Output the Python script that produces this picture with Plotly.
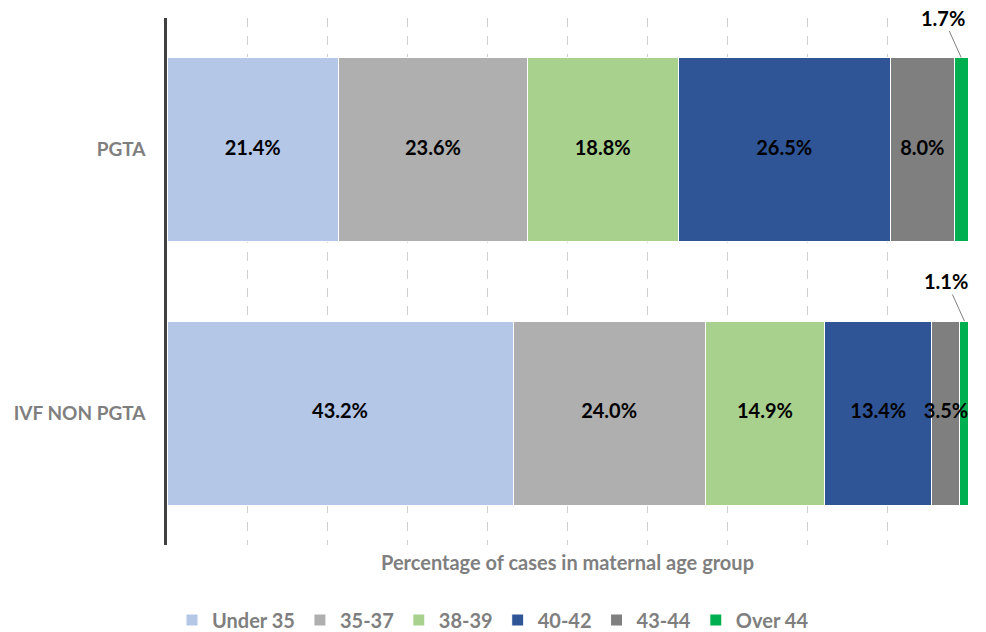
import plotly.graph_objects as go

categories = ["PGTA", "IVF NON PGTA"]
age_groups = ["Under 35", "35-37", "38-39", "40-42", "43-44", "Over 44"]
pgta = [21.4, 23.6, 18.8, 26.5, 8.0, 1.7]
ivf = [43.2, 24.0, 14.9, 13.4, 3.5, 1.1]
colors = ["#B4C7E7", "#AFAFAF", "#A9D18E", "#2F5597", "#7F7F7F", "#00B050"]

FONT = "Lato"
series = {"PGTA": pgta, "IVF NON PGTA": ivf}

fig = go.Figure()
for i, g in enumerate(age_groups):
    vals = [pgta[i], ivf[i]]
    fig.add_trace(go.Bar(
        y=categories, x=vals, name=f"<b>{g}</b>", orientation="h",
        marker=dict(color=colors[i], line=dict(color="white", width=1)),
        width=0.7, hoverinfo="x+name",
    ))

# in-bar labels (drawn on top of all bars)
lx, ly, lt = [], [], []
for cat, vals in series.items():
    cum = 0
    for v in vals[:5]:
        lx.append(cum + v / 2)
        ly.append(cat)
        lt.append(f"<b>{v:.1f}%</b>")
        cum += v
fig.add_trace(go.Scatter(
    x=lx, y=ly, text=lt, mode="text", showlegend=False, hoverinfo="skip",
    textfont=dict(family=FONT, size=20, color="black"), cliponaxis=False,
))

# leader-line labels for the small last segment
for cat, vals in series.items():
    mid = sum(vals[:5]) + vals[5] / 2
    idx = 1 if cat == "PGTA" else 0
    fig.add_annotation(
        x=mid, y=idx + 0.35, xref="x", yref="y",
        text=f"<b>{vals[5]:.1f}%</b>", showarrow=True, arrowhead=0,
        arrowwidth=1, arrowcolor="#7f7f7f", ax=-18, ay=-40,
        font=dict(family=FONT, size=20, color="black"),
    )

fig.update_layout(
    width=986, height=632,
    margin=dict(l=167, r=18, t=18, b=87),
    barmode="stack",
    plot_bgcolor="white", paper_bgcolor="white",
    font=dict(family=FONT),
    legend=dict(orientation="h", x=0.5, xanchor="center", xref="container",
                y=(632 - 620) / 632, yanchor="middle", yref="container",
                font=dict(family=FONT, size=20, color="#7f7f7f"),
                traceorder="normal", itemwidth=30),
    xaxis=dict(range=[0, 100], dtick=10, showgrid=True, gridcolor="#CFCFCF",
               griddash="dash", gridwidth=1.2, showticklabels=False, zeroline=False,
               automargin=False,
               title=dict(text="<b>Percentage of cases in maternal age group</b>",
                          font=dict(family=FONT, size=20, color="#7f7f7f"), standoff=10)),
    yaxis=dict(categoryorder="array", categoryarray=["IVF NON PGTA", "PGTA"],
               range=[-0.5, 1.5],
               showline=True, linecolor="#404040", linewidth=2.5, automargin=False,
               tickfont=dict(family=FONT, size=19, color="#7f7f7f"),
               tickprefix="<b>", ticksuffix="</b>",
               ticks="", ticklabelstandoff=15),
)

fig.write_html("out.html", config={"displayModeBar": False},
               post_script="document.body.style.margin='0';")
